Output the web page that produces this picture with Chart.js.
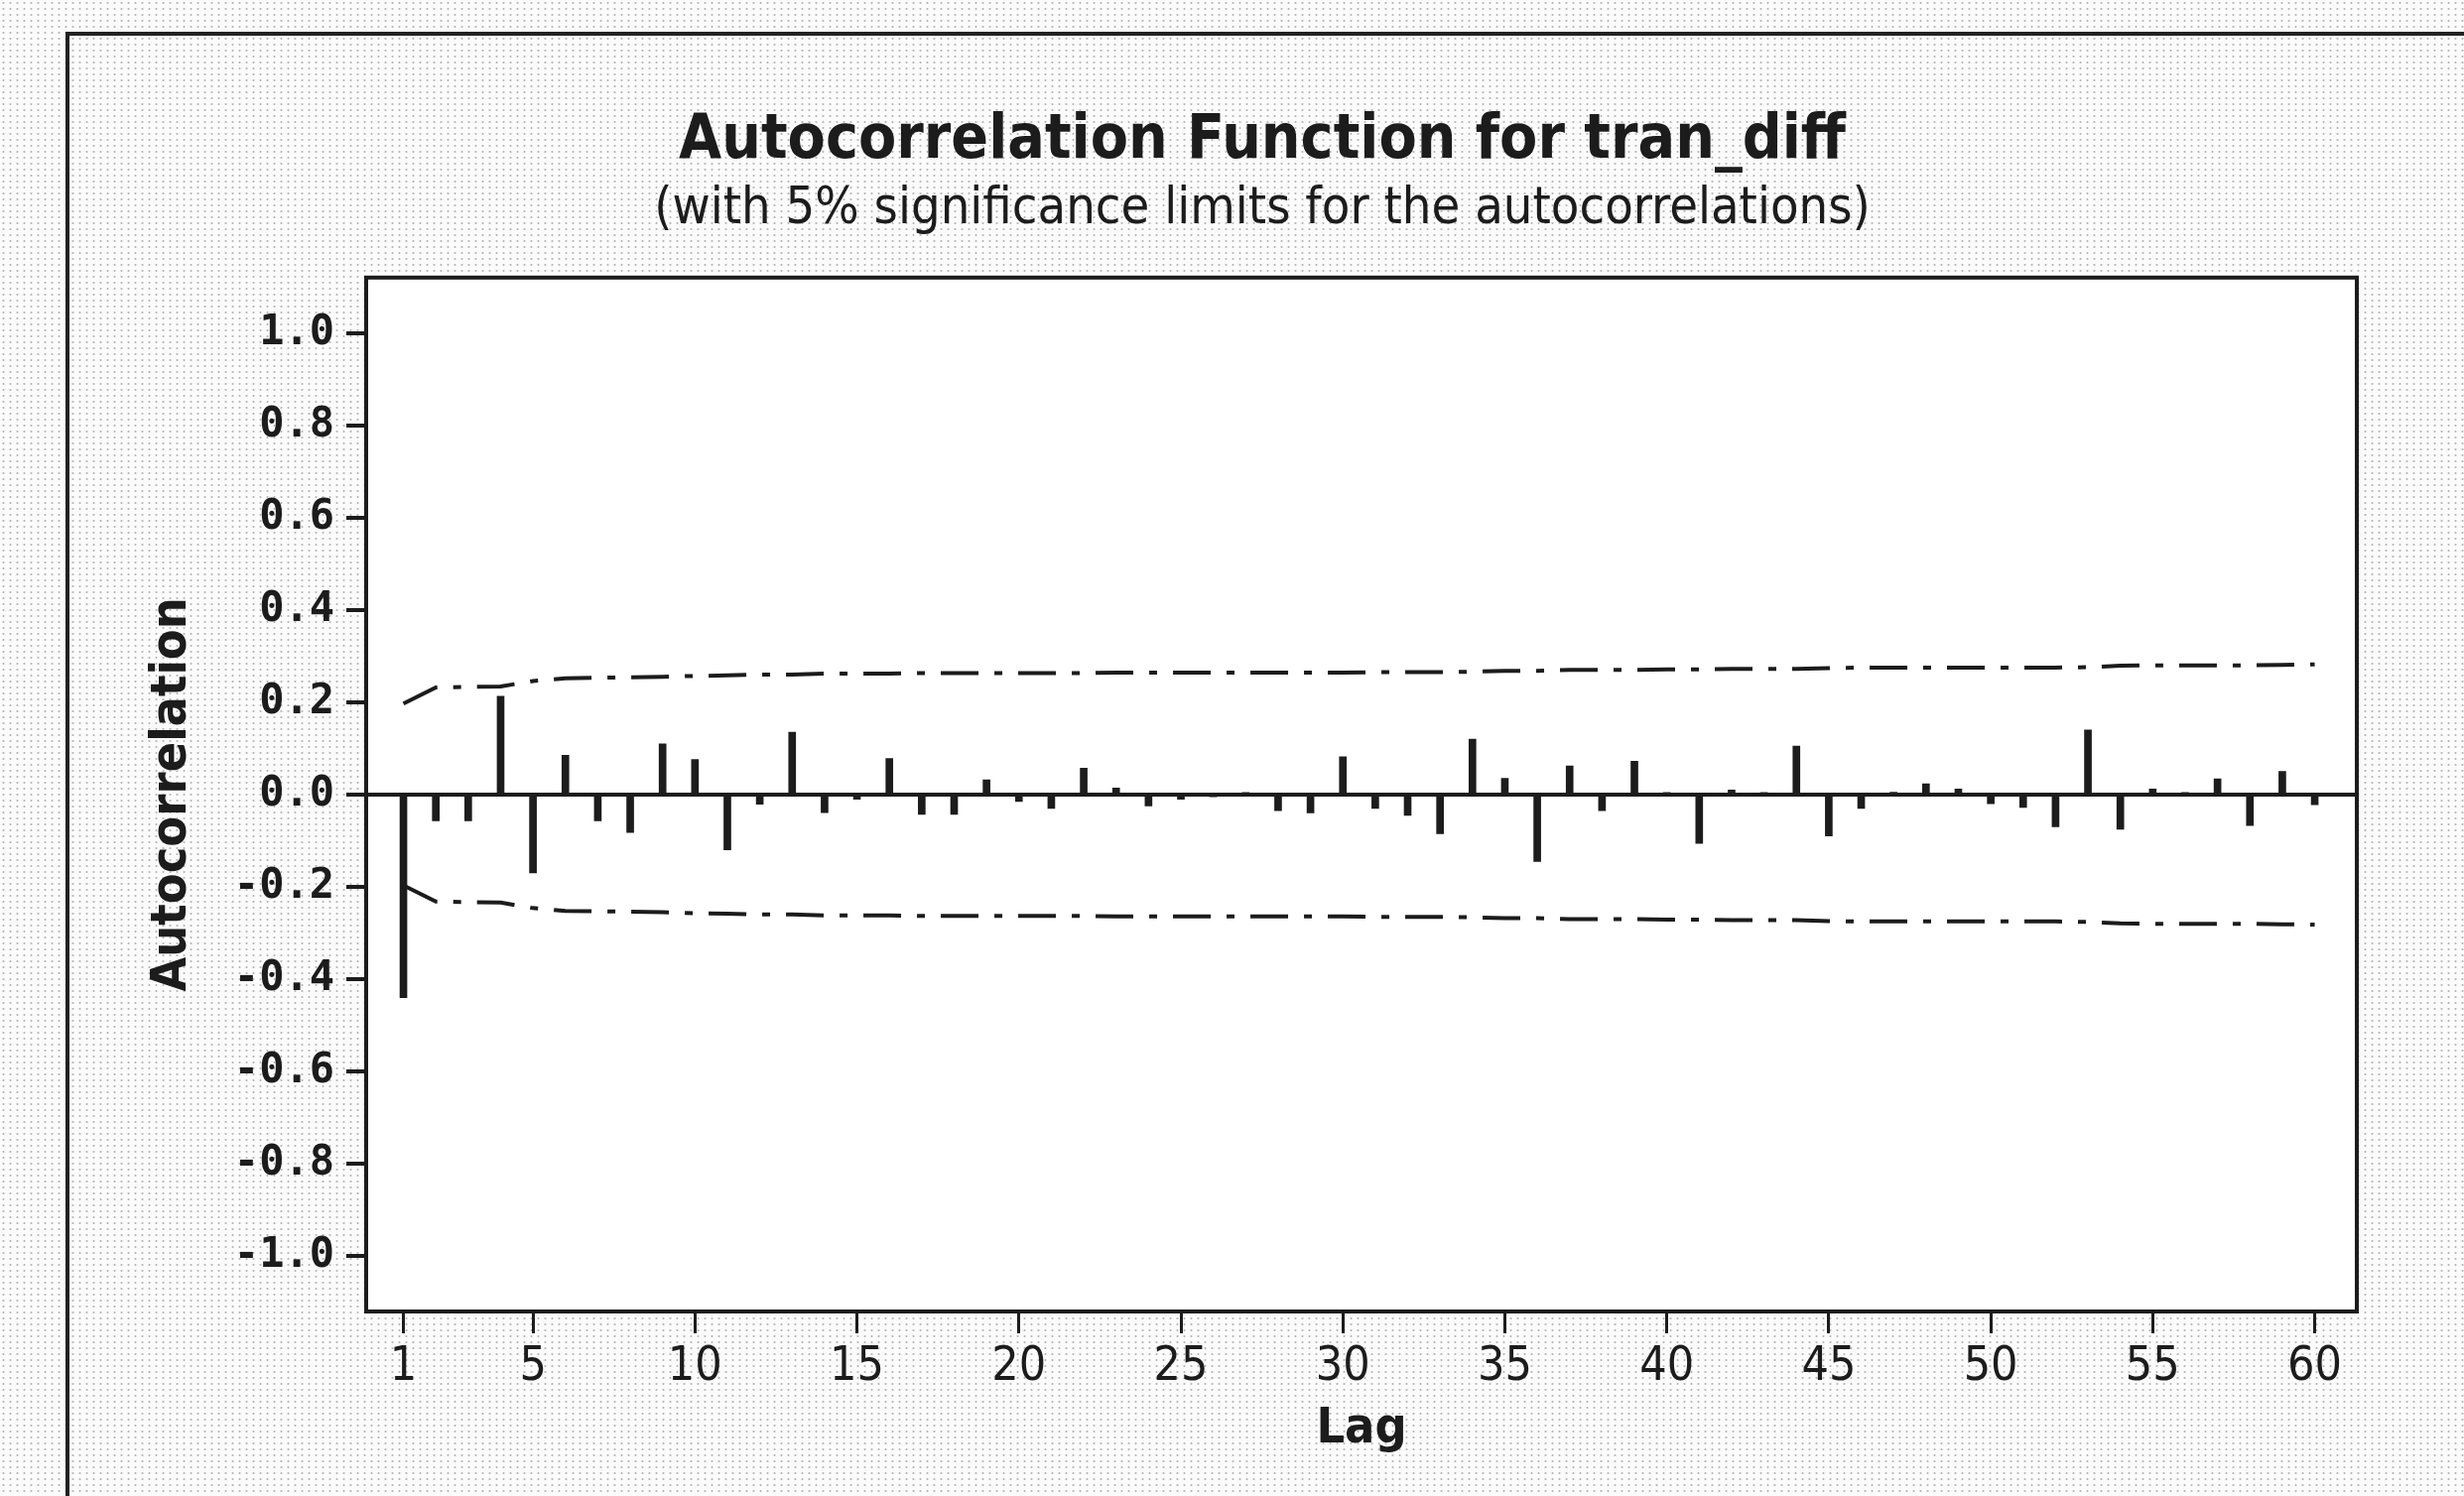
<!DOCTYPE html>
<html>
<head>
<meta charset="utf-8">
<script src="https://cdn.jsdelivr.net/npm/chart.js@4.4.1/dist/chart.umd.min.js"></script>
<style>
  html, body { margin: 0; padding: 0; }
  body {
    width: 2483px; height: 1508px; overflow: hidden; position: relative;
    background-color: #fbfbfb;
    background-image: radial-gradient(#b8b8b8 0.9px, transparent 1.3px);
    background-size: 7px 6px;
  }
  #frame {
    position: absolute; left: 66px; top: 32px; width: 2500px; height: 1600px;
    border-top: 4px solid #222; border-left: 4px solid #222;
  }
  #wrap { position: absolute; left: 61px; top: 0; width: 2422px; height: 1508px; }
</style>
</head>
<body>
<div id="frame"></div>
<div id="wrap"><canvas id="acfChart" width="2422" height="1508"></canvas></div>
<script>
document.addEventListener('DOMContentLoaded', function() {
  const lags = [1, 2, 3, 4, 5, 6, 7, 8, 9, 10, 11, 12, 13, 14, 15, 16, 17, 18, 19, 20,
    21, 22, 23, 24, 25, 26, 27, 28, 29, 30, 31, 32, 33, 34, 35, 36, 37, 38, 39, 40,
    41, 42, 43, 44, 45, 46, 47, 48, 49, 50, 51, 52, 53, 54, 55, 56, 57, 58, 59, 60];

  // autocorrelation
  const acf = [-0.44, -0.057, -0.057, 0.213, -0.17, 0.085, -0.057, -0.082, 0.11, 0.076,
    -0.12, -0.021, 0.135, -0.039, -0.01, 0.078, -0.043, -0.043, 0.032, -0.015,
    -0.03, 0.057, 0.014, -0.025, -0.01, -0.005, 0.003, -0.035, -0.04, 0.082,
    -0.03, -0.045, -0.085, 0.12, 0.035, -0.145, 0.062, -0.035, 0.072, 0.004,
    -0.106, 0.01, 0.002, 0.105, -0.09, -0.03, 0.005, 0.023, 0.012, -0.02,
    -0.028, -0.07, 0.14, -0.075, 0.012, 0.002, 0.034, -0.067, 0.05, -0.022];

  // upper 5% limit (the lower one is the same, negative)
  const limit = [0.197, 0.232, 0.233, 0.234, 0.246, 0.252, 0.253, 0.254, 0.255, 0.257,
    0.258, 0.26, 0.26, 0.262, 0.262, 0.262, 0.263, 0.263, 0.263, 0.263,
    0.263, 0.263, 0.264, 0.264, 0.264, 0.264, 0.264, 0.264, 0.264, 0.264,
    0.265, 0.265, 0.265, 0.266, 0.268, 0.268, 0.27, 0.27, 0.27, 0.271,
    0.271, 0.272, 0.272, 0.272, 0.274, 0.275, 0.275, 0.275, 0.275, 0.275,
    0.275, 0.275, 0.276, 0.279, 0.28, 0.28, 0.28, 0.28, 0.281, 0.282];

  const lagTicks = [1, 5, 10, 15, 20, 25, 30, 35, 40, 45, 50, 55, 60];
  const acfTicks = [-1.0, -0.8, -0.6, -0.4, -0.2, 0.0, 0.2, 0.4, 0.6, 0.8, 1.0];

  const ink = '#1c1c1c';
  const narrow = "'Liberation Sans Narrow', 'DejaVu Sans Condensed', 'Liberation Sans', sans-serif";

  // white plot area with a box around it
  const plotBox = {
    id: 'plotBox',
    beforeDraw(chart) {
      const a = chart.chartArea, c = chart.ctx;
      c.save();
      c.fillStyle = '#ffffff';
      c.fillRect(a.left, a.top, a.right - a.left, a.bottom - a.top);
      c.restore();
    },
    afterDraw(chart) {
      const a = chart.chartArea, c = chart.ctx;
      c.save();
      c.strokeStyle = ink;
      c.lineWidth = 4;
      c.strokeRect(a.left, a.top, a.right - a.left, a.bottom - a.top);
      c.restore();
    }
  };

  const ctx = document.getElementById('acfChart').getContext('2d');
  const acfChart = new Chart(ctx, {
    type: 'bar',
    data: {
      datasets: [
        {
          type: 'line',
          data: lags.map((l, i) => ({ x: l, y: limit[i] })),
          borderColor: ink,
          borderWidth: 4,
          borderDash: [38, 16, 8, 16],
          pointRadius: 0,
          tension: 0
        },
        {
          type: 'line',
          data: lags.map((l, i) => ({ x: l, y: -limit[i] })),
          borderColor: ink,
          borderWidth: 4,
          borderDash: [38, 16, 8, 16],
          pointRadius: 0,
          tension: 0
        },
        {
          type: 'bar',
          data: lags.map((l, i) => ({ x: l, y: acf[i] })),
          backgroundColor: ink,
          borderWidth: 0,
          barThickness: 7
        }
      ]
    },
    options: {
      responsive: false,
      animation: false,
      layout: { padding: 0 },
      plugins: {
        legend: { display: false },
        tooltip: { enabled: false },
        title: {
          display: true,
          text: 'Autocorrelation Function for tran_diff',
          color: ink,
          font: { family: narrow, size: 62, weight: 'bold', lineHeight: 1.2 },
          padding: { top: 106, bottom: 0 }
        },
        subtitle: {
          display: true,
          text: '(with 5% significance limits for the autocorrelations)',
          color: ink,
          font: { family: narrow, size: 52, lineHeight: 1.2 },
          padding: { top: 0, bottom: 37 }
        }
      },
      scales: {
        x: {
          type: 'linear',
          min: -0.15,
          max: 61.3,
          offset: false,
          afterFit: (scale) => { scale.height = 186; },
          afterBuildTicks: (scale) => { scale.ticks = lagTicks.map(v => ({ value: v })); },
          grid: { offset: false, color: 'transparent', tickColor: ink, tickLength: 22, lineWidth: 3 },
          border: { display: false },
          ticks: { color: ink, padding: 6, maxRotation: 0, autoSkip: false,
            font: { family: narrow, size: 48 } },
          title: { display: true, text: 'Lag', color: ink,
            font: { family: narrow, size: 50, weight: 'bold', lineHeight: 1.2 },
            padding: { top: 0, bottom: 37 } }
        },
        y: {
          min: -1.12,
          max: 1.12,
          afterFit: (scale) => { scale.width = 308; },
          afterBuildTicks: (scale) => { scale.ticks = acfTicks.map(v => ({ value: v })); },
          grid: {
            color: (c) => (c.tick && Math.abs(c.tick.value) < 1e-9 ? ink : 'transparent'),
            lineWidth: 4,
            tickColor: ink,
            tickLength: 20
          },
          border: { display: false },
          ticks: { color: ink, padding: 12,
            font: { family: "'DejaVu Sans Mono', monospace", size: 42, weight: 'bold' },
            callback: (v) => Number(v).toFixed(1) },
          title: { display: true, text: 'Autocorrelation', color: ink,
            font: { family: narrow, size: 50, weight: 'bold', lineHeight: 1.2 },
            padding: { top: 83, bottom: 0 } }
        },
        yr: {
          position: 'right',
          display: true,
          afterFit: (scale) => { scale.width = 108; },
          grid: { display: false },
          border: { display: false },
          ticks: { display: false }
        }
      }
    },
    plugins: [plotBox]
  });
});
</script>
</body>
</html>
